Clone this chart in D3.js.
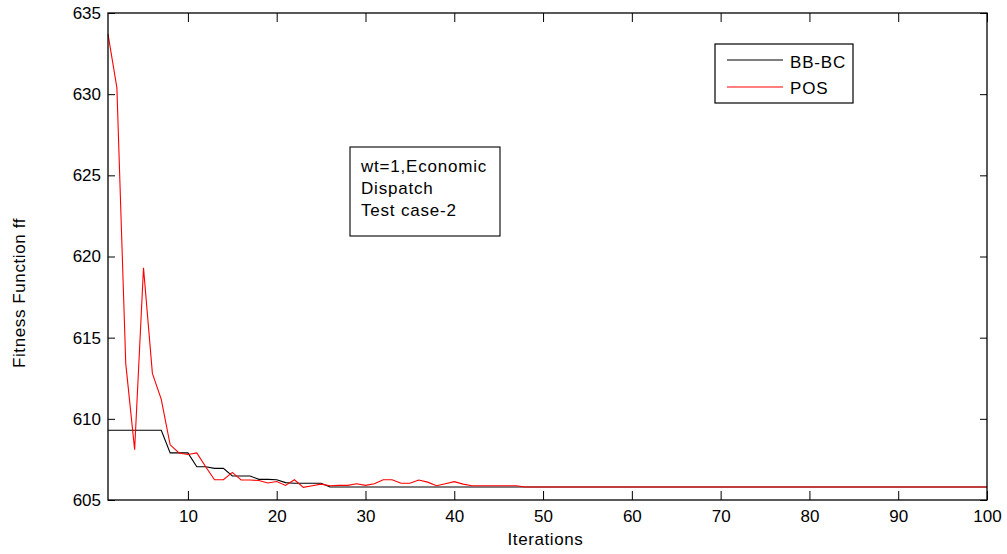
<!DOCTYPE html>
<html>
<head>
<meta charset="utf-8">
<script src="https://cdn.jsdelivr.net/npm/d3@7"></script>
<style>
  body { margin: 0; background: #fff; }
  svg text { font-family: "Liberation Sans", Arial, sans-serif; fill: #000; }
</style>
</head>
<body>
<div id="chart"></div>
<script>
// iterations 1..100
var iterations = d3.range(1, 101);
var xTicks = [10, 20, 30, 40, 50, 60, 70, 80, 90, 100];
var yTicks = [605, 610, 615, 620, 625, 630, 635];

var bbbc = [
  609.3, 609.3, 609.3, 609.3, 609.3, 609.3, 609.3,
  607.9, 607.9, 607.9,
  607.05, 607.05,
  606.95, 606.95,
  606.48, 606.48, 606.48,
  606.27, 606.27, 606.25,
  606.07,
  606.03, 606.03, 606.03, 606.03
];
while (bbbc.length < 100) bbbc.push(605.8);

var pos = [
  633.7, 630.4, 613.4, 608.1, 619.3, 612.8, 611.2, 608.4, 607.9, 607.8,
  607.9, 607.05, 606.25, 606.25, 606.7, 606.23, 606.23, 606.2, 606.05, 606.14,
  605.9, 606.25, 605.78, 605.88, 605.98, 605.88, 605.9, 605.9, 606.0, 605.9,
  606.0, 606.25, 606.25, 606.03, 606.03, 606.23, 606.1, 605.88, 606.0, 606.13,
  605.98, 605.88, 605.88, 605.88, 605.88, 605.88, 605.88
];
while (pos.length < 100) pos.push(605.8);

var seriesNames = ["BB-BC", "POS"];
var seriesColors = ["#000000", "#ff0000"];
var noteLines = ["wt=1,Economic", "Dispatch", "Test case-2"];

//graph's dimension
var W = 1007, H = 554;
var margin = {top: 13, bottom: 54, right: 20, left: 108};
var width = W - margin.left - margin.right;
var height = H - margin.top - margin.bottom;

var svg = d3.select("#chart").append("svg")
  .attr("width", W).attr("height", H);
svg.append("rect").attr("width", W).attr("height", H).attr("fill", "#fff");

var g = svg.append("g")
  .attr("transform", "translate(" + margin.left + "," + margin.top + ")");

var x = d3.scaleLinear().domain([1, 100]).range([0, width]);
var y = d3.scaleLinear().domain([605, 635]).range([height, 0]);

// axes (ticks inside, like matlab)
function styleAxis(sel) {
  sel.select(".domain").remove();
  sel.selectAll(".tick line").attr("stroke", "#000");
  sel.selectAll(".tick text").style("font-size", "17px").attr("fill", "#000");
}
g.append("g").attr("transform", "translate(0," + height + ")")
  .call(d3.axisBottom(x).tickValues(xTicks).tickSizeInner(-9).tickSizeOuter(0).tickPadding(10))
  .call(styleAxis);
g.append("g")
  .call(d3.axisTop(x).tickValues(xTicks).tickSizeInner(-9).tickSizeOuter(0).tickFormat(""))
  .call(styleAxis);
g.append("g")
  .call(d3.axisLeft(y).tickValues(yTicks).tickSizeInner(-7).tickSizeOuter(0).tickPadding(7))
  .call(styleAxis);
g.append("g").attr("transform", "translate(" + width + ",0)")
  .call(d3.axisRight(y).tickValues(yTicks).tickSizeInner(-7).tickSizeOuter(0).tickFormat(""))
  .call(styleAxis);

// lines
var line = d3.line()
  .x(function(d, i) { return x(iterations[i]); })
  .y(function(d) { return y(d); });

[bbbc, pos].forEach(function(s, k) {
  g.append("path")
    .datum(s)
    .attr("d", line)
    .attr("fill", "none")
    .attr("stroke", seriesColors[k])
    .attr("stroke-width", 1.1);
});

// frame
g.append("rect")
  .attr("width", width).attr("height", height)
  .attr("fill", "none").attr("stroke", "#000").attr("stroke-width", 1.3);

// axis labels
svg.append("text")
  .attr("x", margin.left + width / 2 - 2).attr("y", 545)
  .attr("text-anchor", "middle")
  .style("font-size", "17px").style("letter-spacing", "0.6px")
  .text("Iterations");

svg.append("text")
  .attr("transform", "translate(25,368) rotate(-90)")
  .attr("text-anchor", "start")
  .style("font-size", "17px").style("letter-spacing", "0.6px")
  .text("Fitness Function ff");

// legend
var lg = svg.append("g").attr("transform", "translate(715,44)");
lg.append("rect").attr("width", 138).attr("height", 59)
  .attr("fill", "#fff").attr("stroke", "#000").attr("stroke-width", 1.2);
lg.selectAll("line.leg")
  .data(seriesNames)
  .enter()
  .append("line")
  .attr("x1", 12).attr("x2", 68)
  .attr("y1", function(d, i) { return 16 + i * 27; })
  .attr("y2", function(d, i) { return 16 + i * 27; })
  .attr("stroke", function(d, i) { return seriesColors[i]; })
  .attr("stroke-width", 1.1);
lg.selectAll("text.leg")
  .data(seriesNames)
  .enter()
  .append("text")
  .attr("x", 75)
  .attr("y", function(d, i) { return 24 + i * 26; })
  .style("font-size", "17px").style("letter-spacing", "0.8px")
  .text(function(d) { return d; });

// annotation box
var nb = svg.append("g").attr("transform", "translate(350,147)");
nb.append("rect").attr("width", 150).attr("height", 89)
  .attr("fill", "#fff").attr("stroke", "#000").attr("stroke-width", 1.1);
nb.selectAll("text")
  .data(noteLines)
  .enter()
  .append("text")
  .attr("x", 11)
  .attr("y", function(d, i) { return 25 + i * 22.2; })
  .style("font-size", "17px").style("letter-spacing", "0.8px")
  .text(function(d) { return d; });
</script>
</body>
</html>
